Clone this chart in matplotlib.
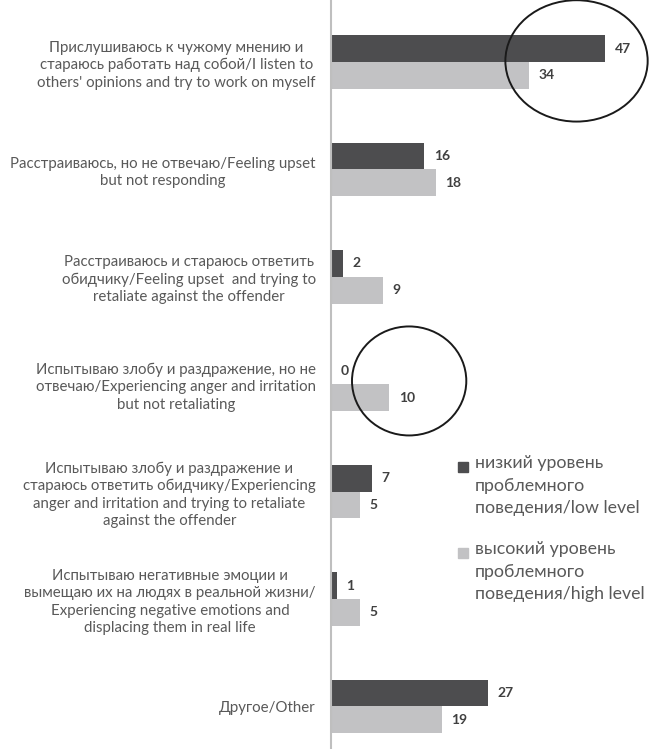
import matplotlib
matplotlib.use('Agg')
import matplotlib.pyplot as plt
import numpy as np
from matplotlib.patches import Ellipse, Rectangle

# categories (top to bottom)
categories = [
    "Прислушиваюсь к чужому мнению и\nстараюсь работать над собой/I listen to\nothers' opinions and try to work on myself",
    "Расстраиваюсь, но не отвечаю/Feeling upset\nbut not responding",
    "Расстраиваюсь и стараюсь ответить\nобидчику/Feeling upset  and trying to\nretaliate against the offender",
    "Испытываю злобу и раздражение, но не\nотвечаю/Experiencing anger and irritation\nbut not retaliating",
    "Испытываю злобу и раздражение и\nстараюсь ответить обидчику/Experiencing\nanger and irritation and trying to retaliate\nagainst the offender",
    "Испытываю негативные эмоции и\nвымещаю их на людях в реальной жизни/\nExperiencing negative emotions and\ndisplacing them in real life",
    "Другое/Other",
]
low_level = [47, 16, 2, 0, 7, 1, 27]
high_level = [34, 18, 9, 10, 5, 5, 19]
series_names = ["низкий уровень\nпроблемного\nповедения/low level",
                "высокий уровень\nпроблемного\nповедения/high level"]

dark = '#4d4d4f'
light = '#c2c2c4'
txt = '#595959'

plt.rcParams['font.family'] = ['Lato', 'DejaVu Sans']

fig = plt.figure(figsize=(6.5, 7.49), dpi=100)
ax = fig.add_axes([331 / 650, 0, 319 / 650, 1])

y = np.arange(len(categories))
h = 0.25
ax.barh(y - h / 2, low_level, height=h, color=dark)
ax.barh(y + h / 2, high_level, height=h, color=light)

ax.set_xlim(0, 54.7)
ax.set_ylim(6.397, -0.577)

for yi, v in zip(y, low_level):
    ax.text(v + 1.6, yi - h / 2, str(v), va='center', ha='left',
            fontsize=10, fontweight='bold', color='#404040')
for yi, v in zip(y, high_level):
    ax.text(v + 1.6, yi + h / 2, str(v), va='center', ha='left',
            fontsize=10, fontweight='bold', color='#404040')

ax.set_yticks(y)
ax.set_yticklabels(categories, fontsize=10.8, color=txt, multialignment='center',
                   linespacing=1.3)
ax.tick_params(axis='y', length=0, pad=11)
ax.set_xticks([])
for s in ['top', 'right', 'bottom']:
    ax.spines[s].set_visible(False)
ax.spines['left'].set_color('#bfbfbf')
ax.spines['left'].set_linewidth(1.5)

# circles highlighting
ax.add_patch(Ellipse((42.1, -0.01), 24.4, 1.13, fill=False, edgecolor='#1a1a1a',
                     lw=1.4, clip_on=False))
ax.add_patch(Ellipse((13.4, 2.97), 19.6, 1.015, fill=False, edgecolor='#1a1a1a',
                     lw=1.4, clip_on=False))

# legend
for i, (name, col) in enumerate(zip(series_names, [dark, light])):
    ycen = 1 - (467 + i * 86) / 749
    fig.patches.append(Rectangle((458 / 650, ycen - 5 / 749), 10 / 650, 10 / 749,
                                 transform=fig.transFigure, color=col, figure=fig))
    fig.text(475 / 650, ycen + 12 / 749, name, fontsize=12.8, color=txt, va='top',
             ha='left', linespacing=1.5)

fig.savefig('out.png', dpi=100)
